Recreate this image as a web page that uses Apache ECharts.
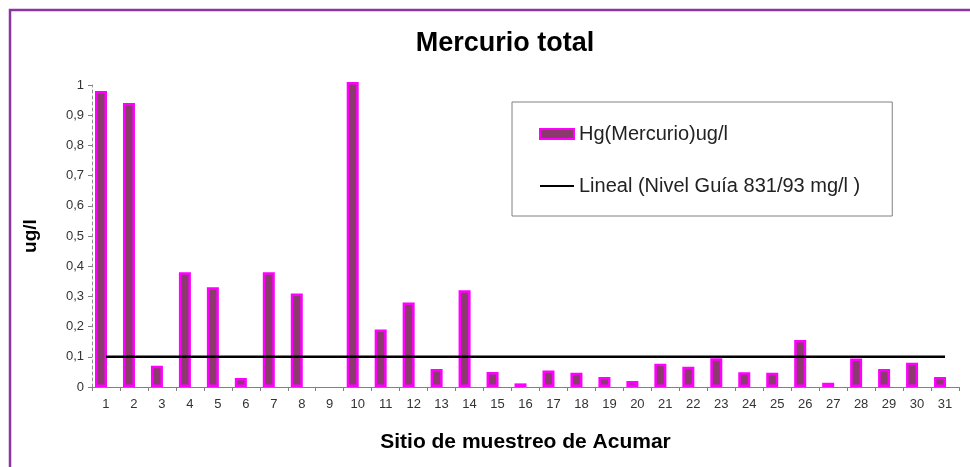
<!DOCTYPE html>
<html>
<head>
<meta charset="utf-8">
<title>Mercurio total</title>
<script src="https://cdn.jsdelivr.net/npm/echarts@6/dist/echarts.min.js"></script>
<style>
  html, body { margin: 0; padding: 0; background: #fff; }
  #chart { width: 970px; height: 467px; }
</style>
</head>
<body>
<div id="chart"></div>
<script>
// sampling sites 1..31
const sites = [
  "1", "2", "3", "4", "5", "6", "7", "8", "9", "10",
  "11", "12", "13", "14", "15", "16", "17", "18", "19", "20",
  "21", "22", "23", "24", "25", "26", "27", "28", "29", "30", "31",
];
// Hg (ug/l), site 9 has no bar
const hgValues = [
  0.98, 0.94, 0.07, 0.38, 0.33, 0.03, 0.38, 0.31, null, 1.01,
  0.19, 0.28, 0.06, 0.32, 0.05, 0.012, 0.055, 0.047, 0.033, 0.02,
  0.077, 0.067, 0.095, 0.049, 0.047, 0.156, 0.014, 0.094, 0.06, 0.08, 0.033,
];
// guide level 0.1
const guideValues = sites.map(() => 0.1);
const yTicks = ["0", "0,1", "0,2", "0,3", "0,4", "0,5", "0,6", "0,7", "0,8", "0,9", "1"];

const chart = echarts.init(document.getElementById("chart"));

const option = {
  animation: false,
  backgroundColor: "#fff",
  textStyle: { fontFamily: "Liberation Sans, Arial, sans-serif" },
  title: {
    text: "Mercurio total",
    left: 500,
    top: 25,
    textAlign: "center",
    textStyle: {
      fontSize: 27,
      fontWeight: "bold",
      color: "#000",
      fontFamily: "Liberation Sans, Arial, sans-serif",
    },
  },
  graphic: [
    {
      type: "rect",
      shape: { x: 10, y: 10, width: 1000, height: 500 },
      style: { fill: "none", stroke: "#8a35a0", lineWidth: 2.5 },
      silent: true,
    },
  ],
  legend: {
    orient: "vertical",
    left: 512,
    top: 102,
    padding: [22, 32, 20, 27],
    itemGap: 32,
    itemWidth: 34,
    itemHeight: 10,
    borderColor: "#808080",
    borderWidth: 1,
    backgroundColor: "#fff",
    data: [
      { name: "Hg(Mercurio)ug/l", icon: "rect" },
      { name: "Lineal (Nivel Guía 831/93 mg/l )", icon: "path://M0,4L34,4L34,6L0,6Z" },
    ],
    textStyle: {
      fontSize: 20,
      color: "#222",
    },
  },
  grid: {
    left: 92,
    right: 11,
    top: 85,
    bottom: 80,
  },
  xAxis: {
    type: "category",
    data: sites,
    name: "Sitio de muestreo de Acumar",
    nameLocation: "middle",
    nameGap: 45,
    nameTextStyle: { fontSize: 21, fontWeight: "bold", color: "#000" },
    axisLine: { lineStyle: { color: "#808080", width: 1 } },
    axisTick: { show: true, length: 4, lineStyle: { color: "#808080" } },
    axisLabel: { color: "#333", fontSize: 13, margin: 11 },
  },
  yAxis: {
    type: "value",
    min: 0,
    max: 1,
    interval: 0.1,
    name: "ug/l",
    nameLocation: "middle",
    nameRotate: 90,
    nameGap: 52,
    nameTextStyle: { fontSize: 19, fontWeight: "bold", color: "#000" },
    splitLine: { show: false },
    axisLine: { show: true, lineStyle: { color: "#909090", width: 1, type: [3, 3] } },
    axisTick: { show: true, length: 4, lineStyle: { color: "#808080" } },
    axisLabel: {
      color: "#333",
      fontSize: 13,
      margin: 8,
      formatter: (v) => yTicks[Math.round(v * 10)],
    },
  },
  series: [
    {
      name: "Hg(Mercurio)ug/l",
      type: "bar",
      data: hgValues,
      barWidth: 12,
      barGap: "-17%",
      clip: false,
      itemStyle: {
        color: "#8b3a6e",
        borderColor: "#ff00ff",
        borderWidth: 2.5,
      },
    },
    {
      // empty companion series, keeps the bars shifted left like the original
      name: "_spacer",
      type: "bar",
      data: sites.map(() => "-"),
      barWidth: 12,
    },
    {
      name: "Lineal (Nivel Guía 831/93 mg/l )",
      type: "line",
      data: guideValues,
      symbol: "none",
      z: 5,
      lineStyle: { color: "#000", width: 2.5 },
      itemStyle: { color: "#000" },
    },
  ],
};

chart.setOption(option);
</script>
</body>
</html>
